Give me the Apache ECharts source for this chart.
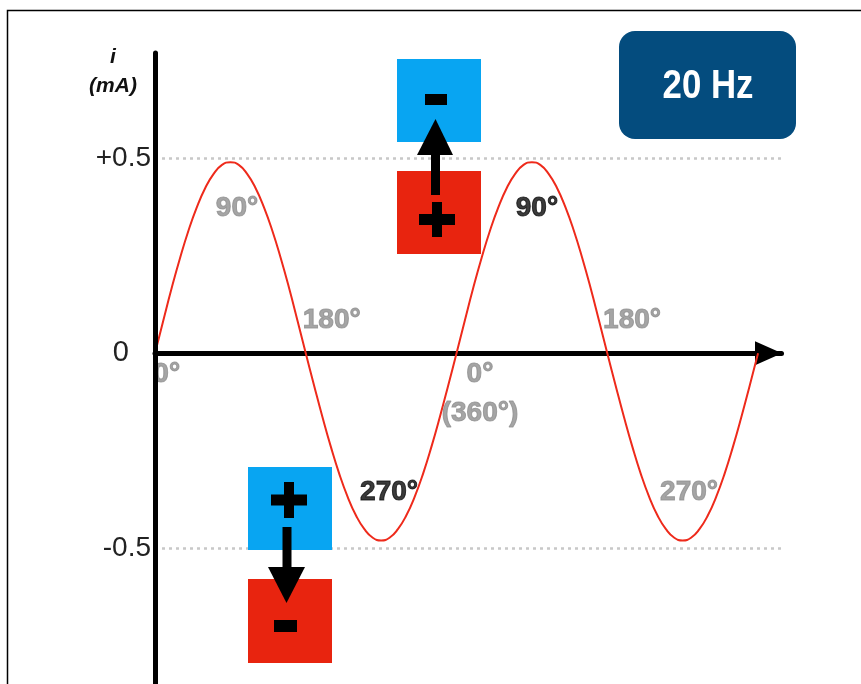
<!DOCTYPE html>
<html><head><meta charset="utf-8">
<script src="https://cdn.jsdelivr.net/npm/echarts@6/dist/echarts.min.js"></script>
<style>html,body{margin:0;padding:0;background:#fff}#c{width:861px;height:684px}</style>
</head><body><div id="c"></div>
<script>
// phase angle (degrees) and current (mA)
const phaseDeg = [0,10,20,30,40,50,60,70,80,90,100,110,120,130,140,150,160,170,
                  180,190,200,210,220,230,240,250,260,270,280,290,300,310,320,330,340,350,
                  360,370,380,390,400,410,420,430,440,450,460,470,480,490,500,510,520,530,
                  540,550,560,570,580,590,600,610,620,630,640,650,660,670,680,690,700,710,720];
const currentMA = [0,0.085,0.168,0.245,0.315,0.375,0.424,0.46,0.483,0.49,0.483,0.46,0.424,0.375,0.315,0.245,0.168,0.085,
                   0,-0.083,-0.164,-0.24,-0.309,-0.368,-0.416,-0.451,-0.473,-0.48,-0.473,-0.451,-0.416,-0.368,-0.309,-0.24,-0.164,-0.083,
                   0,0.085,0.168,0.245,0.315,0.375,0.424,0.46,0.483,0.49,0.483,0.46,0.424,0.375,0.315,0.245,0.168,0.085,
                   0,-0.083,-0.164,-0.24,-0.309,-0.368,-0.416,-0.451,-0.473,-0.48,-0.473,-0.451,-0.416,-0.368,-0.309,-0.24,-0.164,-0.083,0];
const refLevels = [0.5, -0.5];
const yTickText = {'0.5': '+0.5', '0': '{z|0}', '-0.5': '-0.5'};
// angle annotations: [phase, current, text]
const grayAngleLabels = [[97.9,0.372,'90°'],[211,0.085,'180°'],[14,-0.054,'0°'],[388,-0.054,'0°'],
                         [388,-0.154,'(360°)'],[569.6,0.085,'180°'],[637.6,-0.356,'270°']];
const blackAngleLabels = [[456,0.372,'90°'],[279.4,-0.356,'270°']];
const axisName = ['i', '(mA)'];
const freqText = '20 Hz';

const FONT = '"Liberation Sans", Arial, sans-serif';
const chart = echarts.init(document.getElementById('c'), null, {renderer: 'canvas'});

function txt(x, y, text, font, fill, sx) {
  return {type: 'text', x: x, y: y, z: 10, scaleX: sx || 1,
    style: {text: text, font: font, fill: fill, align: 'center', verticalAlign: 'middle',
            textAlign: 'center', textVerticalAlign: 'middle'}};
}
function rect(x, y, w, h, fill, r) {
  return {type: 'rect', z: 10, shape: {x: x, y: y, width: w, height: h, r: r || 0}, style: {fill: fill}};
}
function poly(points, fill) {
  return {type: 'polygon', z: 11, shape: {points: points}, style: {fill: fill}};
}
const BLUE = '#08a5f2', RED = '#e8240f', INK = '#000';

const angleLabel = (color) => ({
  show: true, position: 'inside', formatter: p => p.data[2],
  fontFamily: FONT, fontWeight: 'bold', fontSize: 28, color: color,
  textBorderColor: color, textBorderWidth: 1
});

chart.setOption({
  animation: false,
  grid: {left: 155, top: 53, width: 626.5, height: 690.3, containLabel: false, outerBoundsMode: 'none'},
  xAxis: {
    type: 'value', min: 0, max: 748,
    axisLine: {show: true, onZero: true, symbol: ['none', 'triangle'], symbolSize: [24, 27], symbolOffset: [0, -13],
               lineStyle: {color: '#000', width: 5}},
    axisTick: {show: false}, axisLabel: {show: false}, splitLine: {show: false}
  },
  yAxis: {
    type: 'value', min: -1, max: 0.77, interval: 0.5, z: 5,
    axisLine: {show: true, lineStyle: {color: '#000', width: 5}},
    axisTick: {show: false}, splitLine: {show: false},
    axisLabel: {
      margin: 4, fontFamily: FONT, fontSize: 28, color: '#222',
      formatter: v => { const k = String(Math.round(v * 10) / 10); return yTickText[k] || ''; },
      rich: {z: {fontFamily: FONT, fontSize: 29, color: '#222', padding: [0, 22, 0, 0]}}
    }
  },
  series: [
    {
      type: 'line', data: phaseDeg.map((d, i) => [d, currentMA[i]]), smooth: true, showSymbol: false, z: 3,
      lineStyle: {color: '#ee2a1b', width: 2},
      markLine: {silent: true, symbol: ['none', 'none'], label: {show: false},
        lineStyle: {type: [3, 4], color: '#c8c8c8', width: 2.5},
        data: refLevels.map(v => ({yAxis: v}))}
    },
    {type: 'scatter', data: grayAngleLabels, symbolSize: 0, z: 4, label: angleLabel('#8e8e8e')},
    {type: 'scatter', data: blackAngleLabels, symbolSize: 0, z: 4, label: angleLabel('#0a0a0a')}
  ],
  graphic: [
    {type: 'polyline', z: 1, shape: {points: [[7.5, 700], [7.5, 10.5], [870, 10.5]]}, style: {stroke: '#000', lineWidth: 1.5, fill: null}},
    txt(113, 57, axisName[0], 'italic bold 21px ' + FONT, '#111'),
    txt(113, 86, axisName[1], 'italic bold 21px ' + FONT, '#111'),
    rect(619, 31, 177, 108, '#044c7e', 16),
    txt(708, 87, freqText, 'bold 40px ' + FONT, '#fff', 0.87),
    // top pair: + (red) -> - (blue), arrow up
    rect(397, 59, 84, 83, BLUE),
    rect(397, 171, 84, 83, RED),
    rect(425, 94, 22, 11, INK),
    rect(419, 214, 36, 11, INK),
    rect(432, 202, 10, 35, INK),
    rect(431, 154, 9, 41, INK),
    poly([[417, 155], [453, 155], [435.5, 119]], INK),
    // bottom pair: + (blue) -> - (red), arrow down
    rect(248, 467, 84, 83, BLUE),
    rect(248, 579, 84, 84, RED),
    rect(271, 494.5, 36, 11, INK),
    rect(284, 482, 10, 36, INK),
    rect(274, 620, 23, 12, INK),
    rect(282.5, 527, 9, 41, INK),
    poly([[268, 567], [305, 567], [286.5, 603]], INK)
  ]
});
</script></body></html>
